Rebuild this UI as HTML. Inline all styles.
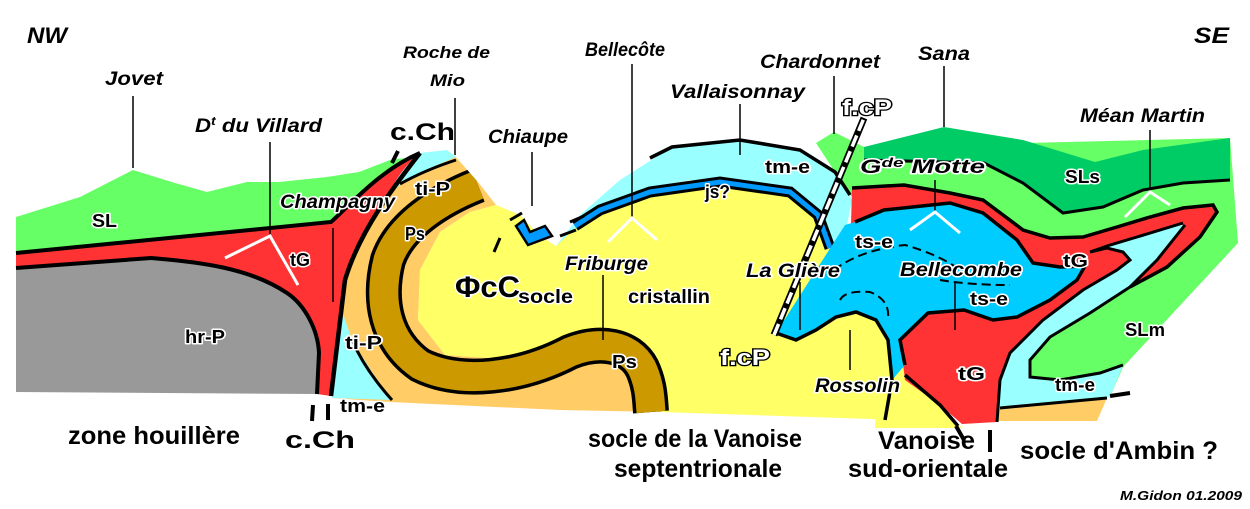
<!DOCTYPE html>
<html><head><meta charset="utf-8"><style>
html,body{margin:0;padding:0;background:#fff;}
svg{display:block;}
text{font-family:"Liberation Sans",sans-serif;font-weight:bold;}
.it{font-style:italic;}
.h{stroke:#fff;stroke-width:3;paint-order:stroke;stroke-linejoin:round;}
.w{fill:#fff;stroke:#000;stroke-width:2.5;paint-order:stroke;}
</style></head><body>
<svg width="1250" height="509" viewBox="0 0 1250 509" xmlns="http://www.w3.org/2000/svg">
<!-- LEFT: gray hr-P -->
<path d="M16,268 L151,258 C200,262 250,268 287,293 C305,305 318,330 319,353 L317,394 L16,392 Z" fill="#999"/>
<path d="M16,253 L331,222 C350,205 380,170 420,153 C395,185 360,230 345,280 L331,396 L317,394 L319,353 C318,330 305,305 287,293 C250,268 200,262 151,258 L16,268 Z" fill="#f33"/>
<path d="M16,217 L80,197 L133,170 L175,183 L207,192 L247,182 L279,182 L327,177 L359,172 L390,160 L405,158 C375,180 350,205 331,222 L16,253 Z" fill="#6f6"/>
<path d="M420,153 L455,156 L478,182 L496,205 L470,212 L440,232 L420,270 L418,320 L445,355 L520,360 L600,335 L640,365 L660,412 L560,410 L390,402 L332,398 L345,280 C360,230 390,185 420,153 Z" fill="#fc6"/>
<path d="M420,153 L447,150 L456,157 L430,168 L400,185 L388,195 C398,175 408,163 420,153 Z" fill="#9ff"/>
<path d="M400,184 Q425,170 456,160" fill="none" stroke="#000" stroke-width="3"/>
<path d="M340,305 L352,340 L372,372 L392,400 L332,398 Z" fill="#9ff"/>
<path d="M352,340 Q365,370 392,400" fill="none" stroke="#000" stroke-width="3"/>
<!-- yellow -->
<path d="M496,205 L520,215 L540,236 L556,246 L575,228 L600,210 L650,190 L720,180 L790,190 L820,215 L834,250 L776,333 L796,340 L816,330 L836,317 L856,312 L876,320 L888,340 L895,380 L905,400 L958,426 L900,420 L660,412 L640,365 L600,335 L520,360 L445,355 L418,320 L420,270 L440,232 L470,212 Z" fill="#ff6"/>
<path d="M880,330 L905,365 L940,405 L962,428 L875,428 Z" fill="#ff6"/>
<!-- brown fold -->
<path d="M478,185 C440,200 400,225 388,260 C378,300 385,340 420,365 C460,385 520,378 570,352 C600,340 630,345 642,368 C650,385 650,400 651,412" fill="none" stroke="#000" stroke-width="36"/>
<path d="M478,185 C440,200 400,225 388,260 C378,300 385,340 420,365 C460,385 520,378 570,352 C600,340 630,345 642,368 C650,385 650,400 651,412" fill="none" stroke="#c90" stroke-width="29"/>
<path d="M455,156 L478,182 L500,204 L520,170 Z" fill="#fff"/>
<!-- RIGHT: light green base -->
<path d="M816,143 L834,132 L864,147 L1230,138 L1238,243 L1123,367 L1110,397 L1000,400 L900,230 L850,195 Z" fill="#6f6"/>
<path d="M864,147 L944,127 L1023,140 L1095,162 L1143,150 L1230,138 L1230,180 L1183,183 L1143,190 L1103,207 L1063,213 L1023,183 L984,163 L864,160 Z" fill="#0c6"/>
<path d="M864,160 L984,163 L1023,183 L1063,213 L1103,207 L1143,190 L1183,183 L1230,180" fill="none" stroke="#000" stroke-width="3"/>
<!-- cyan tm-e top -->
<path d="M556,246 L580,215 L620,180 L672,147 L740,140 L800,150 L835,172 L852,200 L845,235 L834,250 L826,222 L800,195 L750,182 L690,180 L640,190 L600,210 L575,228 Z" fill="#9ff"/>
<path d="M650,158 L672,147 L740,140 L800,150 L835,172 L850,195" fill="none" stroke="#000" stroke-width="3.5"/>
<path d="M575,226 L600,210 L650,192 L720,182 L790,192 L818,215 L830,248" fill="none" stroke="#000" stroke-width="11"/>
<path d="M575,226 L600,210 L650,192 L720,182 L790,192 L818,215 L830,248" fill="none" stroke="#09f" stroke-width="5"/>
<!-- red tG fold -->
<path d="M852,188 L904,185 L950,193 L983,200 L1023,230 L1050,238 L1083,237 L1117,227 L1150,217 L1183,208 L1213,205 L1217,212 L1200,237 L1167,267 L1130,287 L1090,313 L1050,337 L1030,360 L1030,377 L1000,410 L997,422 L962,424 L940,405 L905,380 L900,340 L850,260 Z" fill="#f33"/>
<!-- cyan tongue -->
<path d="M1090,252 L1110,245 L1137,237 L1180,223 L1185,227 L1157,260 L1130,287 L1090,313 L1050,337 L1030,360 L1030,377 L1060,380 L1100,373 L1123,365 L1110,397 L997,410 L997,407 L1000,380 L1010,353 L1043,320 L1083,290 L1117,270 L1130,260 L1123,252 L1107,248 Z" fill="#9ff"/>
<path d="M997,410 L1107,398 L1097,421 L997,421 Z" fill="#fc6"/>
<path d="M852,188 L904,185 L950,193 L983,200 L1023,230 L1050,238 L1083,237 L1117,227 L1150,217 L1183,208 L1213,205 L1217,212 L1200,237 L1167,267 L1130,287" fill="none" stroke="#000" stroke-width="3.5"/>
<path d="M1185,225 L1157,260 L1130,287 L1090,313 L1050,337 L1030,360 L1030,377 L1060,380 L1100,373 L1123,365" fill="none" stroke="#000" stroke-width="3"/>
<path d="M1183,223 L1137,237 L1110,245 L1090,252 M1090,252 L1107,248 L1123,252 L1130,260 L1117,270 L1083,290 L1043,320 L1010,353 L1000,380 L997,422" fill="none" stroke="#000" stroke-width="3"/>
<path d="M1000,408 L1107,398" fill="none" stroke="#000" stroke-width="3"/>
<!-- blue ts-e -->
<path d="M855,222 L884,210 L950,203 L983,213 L1017,240 L1033,263 L1060,267 L1085,266 L1077,280 L1050,300 L1017,317 L993,320 L964,310 L928,313 L900,340 L905,365 L892,380 L888,340 L876,320 L856,312 L836,317 L816,330 L796,340 L776,333 L845,225 Z" fill="#0cf"/>
<path d="M855,222 L884,210 L950,203 L983,213 L1017,240 L1033,263 L1060,267 L1085,266 L1077,280 L1050,300 L1017,317 L993,320 L964,310 L928,313 L900,340 L905,365" fill="none" stroke="#000" stroke-width="3.5"/>
<path d="M776,333 L796,340 L816,330 L836,317 L856,312 L876,320 L888,340 L892,380 L885,420" fill="none" stroke="#000" stroke-width="3.5"/>
<path d="M905,375 L940,405 L958,426" fill="none" stroke="#000" stroke-width="3.5"/>
<path d="M834,270 Q860,250 905,245 Q940,255 960,270 M840,300 Q845,290 870,292 Q890,300 888,318 M940,280 Q970,285 1010,285" fill="none" stroke="#000" stroke-width="2" stroke-dasharray="9 5"/>
<!-- f.cP fault -->
<path d="M774,335 L864,118" fill="none" stroke="#000" stroke-width="7"/>
<path d="M774,335 L864,118" fill="none" stroke="#fff" stroke-width="3.5" stroke-dasharray="12 5"/>
<!-- c.Ch thrust -->
<path d="M420,153 C395,185 360,230 345,280 L331,396" fill="none" stroke="#000" stroke-width="4.5"/>
<path d="M16,253 L331,222 C350,205 380,170 420,153" fill="none" stroke="#000" stroke-width="4"/>
<path d="M16,268 L151,258 C200,262 250,268 287,293 C305,305 318,330 319,353 L317,394" fill="none" stroke="#000" stroke-width="4"/>
<path d="M392,163 L398,151 M313,405 L312,421 M328,404 L328,420 M956,426 L964,440 M990,430 L990,452 M1110,396 L1130,393" fill="none" stroke="#000" stroke-width="4"/>
<!-- Chiaupe klippe -->
<path d="M516,226 L528,245 L552,236 L545,226 L530,232 L524,220 Z" fill="#09f" stroke="#000" stroke-width="2.5"/>
<path d="M510,220 L522,213 M500,238 L494,252 M570,222 L584,216 M560,236 L576,230" stroke="#000" stroke-width="3"/>
<!-- leader lines -->
<g stroke="#000" stroke-width="1.5">
<line x1="133" y1="96" x2="133" y2="168"/><line x1="270" y1="142" x2="270" y2="236"/>
<line x1="455" y1="98" x2="455" y2="155"/><line x1="532" y1="152" x2="532" y2="206"/>
<line x1="632" y1="64" x2="632" y2="218"/><line x1="740" y1="104" x2="740" y2="155"/>
<line x1="834" y1="76" x2="834" y2="134"/><line x1="944" y1="66" x2="944" y2="127"/>
<line x1="1150" y1="130" x2="1150" y2="190"/><line x1="935" y1="180" x2="935" y2="212"/>
<line x1="800" y1="282" x2="800" y2="330"/><line x1="955" y1="282" x2="955" y2="330"/>
<line x1="603" y1="275" x2="603" y2="340"/><line x1="850" y1="330" x2="850" y2="370"/>
<line x1="333" y1="228" x2="333" y2="302"/>
</g>
<g stroke="#fff" stroke-width="3" fill="none">
<path d="M225,258 L270,236 L298,285"/><path d="M608,242 L632,218 L657,240"/>
<path d="M910,230 L935,212 L960,233"/><path d="M1125,217 L1150,192 L1170,205"/>
</g>
<!-- labels -->
<g font-size="22" class="it"><text x="27" y="43" textLength="40" lengthAdjust="spacingAndGlyphs">NW</text><text x="1194" y="43" textLength="35" lengthAdjust="spacingAndGlyphs">SE</text></g>
<g font-size="19" class="it" lengthAdjust="spacingAndGlyphs">
<text x="105" y="85" textLength="58" lengthAdjust="spacingAndGlyphs">Jovet</text>
<text x="195" y="132" textLength="127" lengthAdjust="spacingAndGlyphs">D<tspan font-size="12" dy="-7">t</tspan><tspan dy="7"> du Villard</tspan></text>
<text x="403" y="58" font-size="17" textLength="87" lengthAdjust="spacingAndGlyphs">Roche de</text>
<text x="430" y="86" font-size="17" textLength="35" lengthAdjust="spacingAndGlyphs">Mio</text>
<text x="488" y="143" textLength="80" lengthAdjust="spacingAndGlyphs">Chiaupe</text>
<text x="585" y="56" textLength="80" lengthAdjust="spacingAndGlyphs">Bellecôte</text>
<text x="670" y="98" textLength="135" lengthAdjust="spacingAndGlyphs">Vallaisonnay</text>
<text x="760" y="68" textLength="120" lengthAdjust="spacingAndGlyphs">Chardonnet</text>
<text x="918" y="60" textLength="52" lengthAdjust="spacingAndGlyphs">Sana</text>
<text x="1080" y="122" textLength="125" lengthAdjust="spacingAndGlyphs">Méan Martin</text>
<text class="h" x="280" y="208" textLength="115" lengthAdjust="spacingAndGlyphs">Champagny</text>
<text class="h" x="860" y="173" textLength="125" lengthAdjust="spacingAndGlyphs">G<tspan font-size="13" dy="-6">de</tspan><tspan dy="6"> Motte</tspan></text>
<text class="h" x="746" y="277" textLength="94" lengthAdjust="spacingAndGlyphs">La Glière</text>
<text class="h" x="900" y="276" textLength="122" lengthAdjust="spacingAndGlyphs">Bellecombe</text>
<text class="h" x="565" y="270" textLength="83" lengthAdjust="spacingAndGlyphs">Friburge</text>
<text class="h" x="815" y="392" textLength="85" lengthAdjust="spacingAndGlyphs">Rossolin</text>
</g>
<text x="390" y="140" font-size="24" textLength="65" lengthAdjust="spacingAndGlyphs">c.Ch</text>
<text x="285" y="448" font-size="24" textLength="70" lengthAdjust="spacingAndGlyphs">c.Ch</text>
<g font-size="18" class="h">
<text x="92" y="227" textLength="25" lengthAdjust="spacingAndGlyphs">SL</text>
<text x="290" y="266" textLength="20" lengthAdjust="spacingAndGlyphs">tG</text>
<text x="185" y="343" textLength="40" lengthAdjust="spacingAndGlyphs">hr-P</text>
<text x="415" y="195" textLength="35" lengthAdjust="spacingAndGlyphs">ti-P</text>
<text x="345" y="349" textLength="37" lengthAdjust="spacingAndGlyphs">ti-P</text>
<text x="405" y="240" textLength="20" lengthAdjust="spacingAndGlyphs">Ps</text>
<text x="340" y="412" textLength="45" lengthAdjust="spacingAndGlyphs">tm-e</text>
<text x="765" y="173" textLength="45" lengthAdjust="spacingAndGlyphs">tm-e</text>
<text x="705" y="198" textLength="25" lengthAdjust="spacingAndGlyphs">js?</text>
<text x="1065" y="183" textLength="35" lengthAdjust="spacingAndGlyphs">SLs</text>
<text x="855" y="248" textLength="38" lengthAdjust="spacingAndGlyphs">ts-e</text>
<text x="1063" y="267" textLength="25" lengthAdjust="spacingAndGlyphs">tG</text>
<text x="970" y="305" textLength="38" lengthAdjust="spacingAndGlyphs">ts-e</text>
<text x="1125" y="336" textLength="40" lengthAdjust="spacingAndGlyphs">SLm</text>
<text x="958" y="380" textLength="27" lengthAdjust="spacingAndGlyphs">tG</text>
<text x="1055" y="391" textLength="40" lengthAdjust="spacingAndGlyphs">tm-e</text>
<text x="612" y="368" textLength="25" lengthAdjust="spacingAndGlyphs">Ps</text>
<text x="518" y="303" font-size="19" textLength="55" lengthAdjust="spacingAndGlyphs">socle</text>
<text x="628" y="303" font-size="19" textLength="82" lengthAdjust="spacingAndGlyphs">cristallin</text>
</g>
<text x="455" y="297" font-size="30" class="h" textLength="65" lengthAdjust="spacingAndGlyphs">ΦcC</text>
<text x="842" y="115" font-size="22" class="w" textLength="50" lengthAdjust="spacingAndGlyphs">f.cP</text>
<text x="720" y="365" font-size="22" class="w" textLength="50" lengthAdjust="spacingAndGlyphs">f.cP</text>
<g font-size="25">
<text x="68" y="444" textLength="172" lengthAdjust="spacingAndGlyphs">zone houillère</text>
<text x="588" y="447" textLength="214" lengthAdjust="spacingAndGlyphs">socle de la Vanoise</text>
<text x="614" y="477" textLength="168" lengthAdjust="spacingAndGlyphs">septentrionale</text>
<text x="878" y="449" textLength="97" lengthAdjust="spacingAndGlyphs">Vanoise</text>
<text x="848" y="477" textLength="160" lengthAdjust="spacingAndGlyphs">sud-orientale</text>
<text x="1020" y="459" textLength="198" lengthAdjust="spacingAndGlyphs">socle d'Ambin ?</text>
</g>
<text x="1120" y="500" font-size="13" class="it" textLength="122" lengthAdjust="spacingAndGlyphs">M.Gidon 01.2009</text>
</svg>
</body></html>
